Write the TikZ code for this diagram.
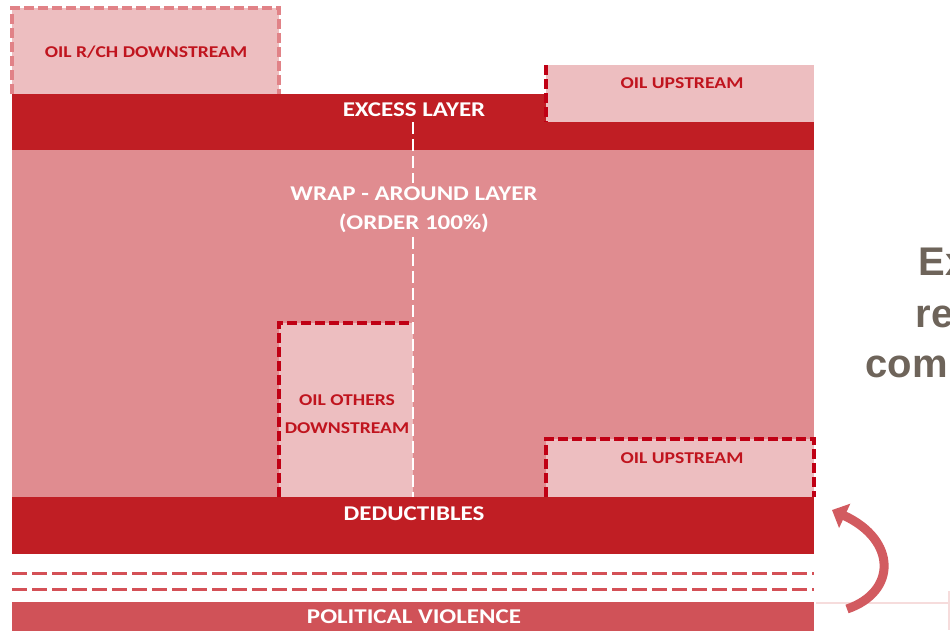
\documentclass[tikz,border=0pt]{standalone}
\usepackage{fontspec}
\setmainfont{Carlito}
\newfontfamily\layerfont[FakeStretch=1.19]{Carlito}
\newfontfamily\notefont{Liberation Sans}
\usetikzlibrary{arrows.meta, positioning}

\definecolor{layerred}{RGB}{192,30,36}
\definecolor{wrapred}{RGB}{224,140,144}
\definecolor{oilpink}{RGB}{237,190,192}
\definecolor{oiltext}{RGB}{192,20,30}
\definecolor{edgered}{RGB}{192,0,20}
\definecolor{edgepink}{RGB}{225,130,135}
\definecolor{pvred}{RGB}{208,82,88}
\definecolor{dashred}{RGB}{212,80,86}
\definecolor{notegray}{RGB}{110,100,90}
\definecolor{rulepink}{RGB}{246,220,220}

\begin{document}
\begin{tikzpicture}[x=1pt, y=-1pt,
    block/.style={rectangle, inner sep=0pt, outer sep=0pt, anchor=north west},
    barlabel/.style={text=white, align=center, font=\layerfont\fontsize{21}{29}\selectfont\bfseries},
    oillabel/.style={text=oiltext, align=center, font=\layerfont\fontsize{16.5}{28}\selectfont\bfseries},
    notelabel/.style={text=notegray, anchor=base west, font=\notefont\fontsize{40}{48}\selectfont\bfseries},
    hatch/.style={dash pattern=on 10pt off 4pt, line width=3.5pt},
    arrow/.style={-{Triangle[width=26pt, length=14pt]}, line width=9pt, color=pvred!95!white}
]
    \useasboundingbox (0,0) rectangle (950,630);

    % downstream cover above the excess layer
    \node[block, fill=oilpink, minimum width=267pt, minimum height=86pt] (rch) at (12,8) {};
    \draw[edgepink, hatch] (rch.south west) -- (rch.north west) -- (rch.north east) -- (rch.south east);
    \node[oillabel] (rchtext) at (146,52) {OIL R/CH DOWNSTREAM};

    % layers
    \node[block, fill=layerred, minimum width=802pt, minimum height=56pt] (excess) at (12,94) {};
    \node[block, fill=wrapred, minimum width=802pt, minimum height=347pt] (wrap) at (12,150) {};
    \node[block, fill=layerred, minimum width=802pt, minimum height=57pt] (deduct) at (12,497) {};
    \node[block, fill=pvred, minimum width=802pt, minimum height=58pt] (pv) at (12,602) {};

    \node[barlabel] (excesstext) at (414,110) {EXCESS LAYER};
    \node[barlabel] (wraptext) at (414,210) {WRAP - AROUND LAYER\\(ORDER 100\%)};
    \node[barlabel] (deducttext) at (414,514) {DEDUCTIBLES};
    \node[barlabel] (pvtext) at (414,617) {POLITICAL VIOLENCE};

    % upstream covers
    \node[block, fill=oilpink, minimum width=268pt, minimum height=57pt] (uptop) at (546,65) {};
    \draw[edgered, hatch] (uptop.north west) -- (uptop.south west);
    \node[oillabel] (uptoptext) at (682,83) {OIL UPSTREAM};

    \node[block, fill=oilpink, minimum width=268pt, minimum height=58pt] (upbottom) at (546,439) {};
    \draw[edgered, hatch] (upbottom.south west) -- (upbottom.north west) -- (upbottom.north east) -- (upbottom.south east);
    \node[oillabel] (upbottomtext) at (682,458) {OIL UPSTREAM};

    % other downstream
    \node[block, fill=oilpink, minimum width=134pt, minimum height=174pt] (others) at (279,323) {};
    \draw[edgered, hatch] (others.south west) -- (others.north west) -- (others.north east);
    \node[oillabel] (otherstext) at (347,414) {OIL OTHERS\\DOWNSTREAM};

    % split line
    \coordinate (splittop) at (413,122);
    \draw[white, line width=2.5pt, dash pattern=on 12pt off 5pt] (splittop) -- (wraptext.north -| splittop);
    \draw[white, line width=2.5pt, dash pattern=on 12pt off 5pt] (wraptext.south -| splittop) -- (others.south east);

    % gap lines
    \draw[dashred, line width=3pt, dash pattern=on 15pt off 5pt] (deduct.south west) ++(0,19) -- ++(802,0);
    \draw[dashred, line width=3pt, dash pattern=on 15pt off 5pt] (deduct.south west) ++(0,35) -- ++(802,0);

    % side note
    \draw[rulepink, line width=1.5pt] (816,603) -- (949,603);
    \draw[rulepink, line width=1.5pt] (949,591) -- (949,630);
    \coordinate (arrowtail) at (847,609);
    \coordinate (arrowhead) at (832,510);
    \draw[arrow] (arrowtail) .. controls (897,592) and (897,540) .. (arrowhead);

    \node[notelabel] (note1) at (915,275) {Ex};
    \node[notelabel] (note2) at (912,327) {re};
    \node[notelabel] (note3) at (862,377) {com};
\end{tikzpicture}
\end{document}
